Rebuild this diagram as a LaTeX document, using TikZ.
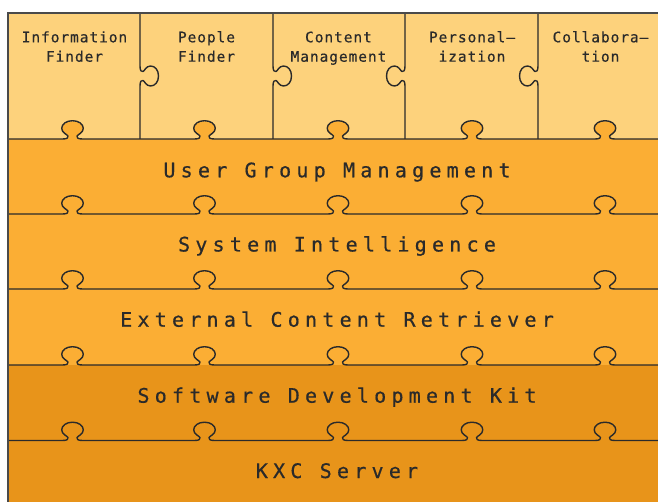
\documentclass[tikz,border=0pt]{standalone}
\usepackage{fontspec}
\newfontfamily\modulefont{DejaVu Sans Mono}[LetterSpace=6.5,FakeBold=0.4]
\newfontfamily\layerfont{DejaVu Sans Mono}[LetterSpace=26.2,FakeBold=0.6]
\definecolor{paleor}{HTML}{FDD27C}
\definecolor{midor}{HTML}{FBAE34}
\definecolor{deepor}{HTML}{E8941A}
\definecolor{edge}{HTML}{2A2A2A}
\definecolor{frame}{HTML}{4A4A4A}

\tikzset{
  % puzzle knob on a horizontal seam at (cx,y0), pointing up
  kup/.style 2 args={insert path={
    -- ({#1-10},{#2})
    .. controls ({#1-5},{#2}) and ({#1-4},{#2-1.5}) .. ({#1-4.5},{#2-3})
    .. controls ({#1-5},{#2-4.5}) and ({#1-10.8},{#2-6}) .. ({#1-10.8},{#2-10.7})
    .. controls ({#1-10.8},{#2-15}) and ({#1-6},{#2-18.3}) .. ({#1},{#2-18.3})
    .. controls ({#1+6},{#2-18.3}) and ({#1+10.8},{#2-15}) .. ({#1+10.8},{#2-10.7})
    .. controls ({#1+10.8},{#2-6}) and ({#1+5},{#2-4.5}) .. ({#1+4.5},{#2-3})
    .. controls ({#1+4},{#2-1.5}) and ({#1+5},{#2}) .. ({#1+10},{#2})}},
  % puzzle knob on a vertical seam at (x0,cy), pointing right (+1) or left (-1)
  kside/.style n args={3}{insert path={
    -- ({#1},{#2-10})
    .. controls ({#1},{#2-5}) and ({#1+(#3)*1.5},{#2-4}) .. ({#1+(#3)*3},{#2-4.5})
    .. controls ({#1+(#3)*4.5},{#2-5}) and ({#1+(#3)*6},{#2-10}) .. ({#1+(#3)*10.5},{#2-10})
    .. controls ({#1+(#3)*15},{#2-10}) and ({#1+(#3)*18.5},{#2-6}) .. ({#1+(#3)*18.5},{#2})
    .. controls ({#1+(#3)*18.5},{#2+6}) and ({#1+(#3)*15},{#2+10}) .. ({#1+(#3)*10.5},{#2+10})
    .. controls ({#1+(#3)*6},{#2+10}) and ({#1+(#3)*4.5},{#2+5}) .. ({#1+(#3)*3},{#2+4.5})
    .. controls ({#1+(#3)*1.5},{#2+4}) and ({#1},{#2+5}) .. ({#1},{#2+10})}},
  seam/.style={draw=edge, line width=1.4pt, line join=round},
  outer/.style={draw=frame, line width=1.6pt},
  moduletext/.style={font=\modulefont\fontsize{14.5}{19.4}\selectfont, text=edge,
    align=center, anchor=base, inner sep=0pt},
  layertext/.style={font=\layerfont\fontsize{20}{24}\selectfont, text=edge,
    anchor=base, inner sep=0pt},
}

\begin{document}
\begin{tikzpicture}[x=1pt,y=-1pt]
  \useasboundingbox (0,0) rectangle (658,502);
  \clip (0,0) rectangle (658,502);
  \fill[white] (0,0) rectangle (658,502);

  % coloured bands
  \fill[paleor] (8,13) rectangle (670,139);
  \fill[midor] (8,139) rectangle (670,365);
  \fill[deepor] (8,365) rectangle (670,510);

  % knobs of the first layer reaching into the module row
  \foreach \cx in {72.5,204.5,338,472,605}
    \fill[midor] ({\cx-10},139.6) [kup={\cx}{139.6}] -- cycle;

  % horizontal seams with knobs
  \foreach \yy in {139,214,289,365,440.5}
    \draw[seam] (8,\yy) [kup={72.5}{\yy}] [kup={204.5}{\yy}] [kup={338}{\yy}]
      [kup={472}{\yy}] [kup={605}{\yy}] -- (670,\yy);

  % vertical seams between the modules
  \draw[seam] (140,13) [kside={140}{76}{1}] -- (140,139);
  \draw[seam] (273,13) [kside={273}{76}{1}] -- (273,139);
  \draw[seam] (405,13) [kside={405}{76}{-1}] -- (405,139);
  \draw[seam] (538,13) [kside={538}{76}{-1}] -- (538,139);

  % outer frame
  \draw[outer] (8,510) -- (8,13) -- (670,13);

  % module labels (anchored on the baseline of their second line)
  \node[moduletext] (info)    at (74.5,61.7)  {Information\\Finder};
  \node[moduletext] (people)  at (206.5,61.7) {People\\Finder};
  \node[moduletext] (content) at (338.5,61.7) {Content\\Management};
  \node[moduletext] (person)  at (472,61.7)   {Personal–\\ization};
  \node[moduletext] (collab)  at (600.5,61.7) {Collabora–\\tion};

  % layer labels
  \node[layertext] (ugm) at (337,177.3) {User Group Management};
  \node[layertext] (si)  at (337,251.5) {System Intelligence};
  \node[layertext] (ecr) at (337,326.7) {External Content Retriever};
  \node[layertext] (sdk) at (337,402.7) {Software Development Kit};
  \node[layertext] (kxc) at (337,478)   {KXC Server};
\end{tikzpicture}
\end{document}
